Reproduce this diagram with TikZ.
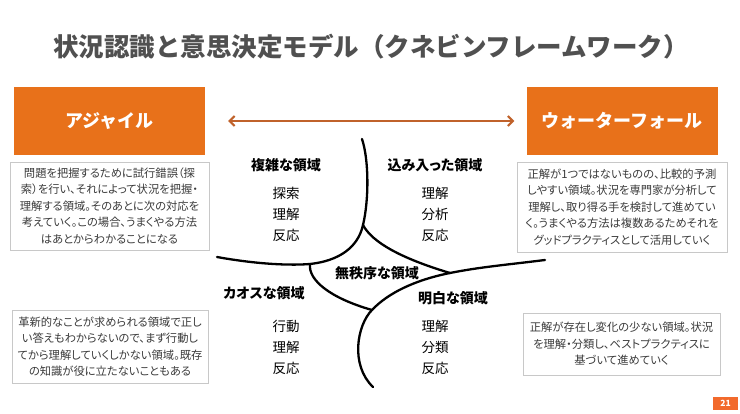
\documentclass[tikz,border=0pt]{standalone}
\usepackage{fontspec}
\setmainfont{Noto Sans CJK JP}[RawFeature=+palt]
\newfontfamily\titlefont{Noto Sans CJK JP}
\usetikzlibrary{arrows.meta}
\definecolor{headfill} {HTML}{E8711A}
\definecolor{flowline} {HTML}{C0622B}
\definecolor{noteframe}{HTML}{C8C8C8}
\definecolor{notetext} {HTML}{3A3A3A}
\definecolor{titlegray}{HTML}{505050}
\definecolor{pagetag}  {HTML}{F26A2C}

\begin{document}
\begin{tikzpicture}[x=1pt, y=-1pt,
    cfhead/.style={fill=headfill, text=white, inner sep=0pt,
                   minimum width=191pt, minimum height=68pt,
                   font=\titlefont\fontsize{18}{18}\selectfont\bfseries},
    cfnote/.style={draw=noteframe, line width=0.8pt, text=notetext, inner sep=0pt,
                   align=center, font=\fontsize{11.3}{16.5}\selectfont},
    cfname/.style={font=\fontsize{14}{14}\selectfont\bfseries},
    cfverb/.style={align=center, font=\fontsize{13.5}{21}\selectfont},
    cfline/.style={line width=2.3pt, line cap=round},
    cfflow/.style={{Straight Barb[length=5pt, width=10pt]}-{Straight Barb[length=5pt, width=10pt]},
                   line width=2pt, flowline, shorten <=23pt, shorten >=12pt}
  ]
    \node[font=\titlefont\fontsize{25.5}{25.5}\selectfont\bfseries, text=titlegray] (title)
      at (371,47) {状況認識と意思決定モデル（クネビンフレームワーク）};

    \node[cfhead] (agile)     at (109.5,121) {アジャイル};
    \node[cfhead] (waterfall) at (622,121)   {ウォーターフォール};
    \draw[cfflow] (agile) -- (waterfall);

    \node[cfnote, minimum width=199pt, minimum height=88pt] (complexnote) at (109.5,206)
      {問題を把握するために試行錯誤（探\\索）を行い、それによって状況を把握・\\理解する領域。そのあとに次の対応を\\考えていく。この場合、うまくやる方法\\はあとからわかることになる};
    \node[cfnote, minimum width=210pt, minimum height=90pt] (complicatednote) at (622,207)
      {正解が1つではないものの、比較的予測\\しやすい領域。状況を専門家が分析して\\理解し、取り得る手を検討して進めてい\\く。うまくやる方法は複数あるためそれを\\グッドプラクティスとして活用していく};
    \node[cfnote, minimum width=196pt, minimum height=73pt] (chaosnote) at (110,346.5)
      {革新的なことが求められる領域で正し\\い答えもわからないので、まず行動し\\てから理解していくしかない領域。既存\\の知識が役に立たないこともある};
    \node[cfnote, minimum width=197pt, minimum height=62pt] (clearnote) at (621.5,344)
      {正解が存在し変化の少ない領域。状況\\を理解・分類し、ベストプラクティスに\\基づいて進めていく};

    % the four domains meet around the disorder area; J1..J4 are the joints
    \coordinate (j1) at (363,225);
    \coordinate (j2) at (310,264);
    \coordinate (j3) at (450,273);
    \coordinate (j4) at (372,310);
    \draw[cfline] (362,139) .. controls (369,160) and (369,200) .. (j1);
    \draw[cfline] (217,257) .. controls (250,263) and (285,266) .. (j2)
                            .. controls (338,261) and (358,248) .. (j1);
    \draw[cfline] (j1) .. controls (372,242) and (400,258) .. (j3);
    \draw[cfline] (j2) .. controls (308,280) and (330,298) .. (j4);
    \draw[cfline] (545,260) .. controls (505,265) and (480,267) .. (j3)
                            .. controls (415,280) and (388,293) .. (j4)
                            .. controls (357,325) and (350,365) .. (373,387);

    \node[cfname] (complex)     at (286,165) {複雑な領域};
    \node[cfname] (complicated) at (435,165) {込み入った領域};
    \node[cfname] (disorder)    at (377,273) {無秩序な領域};
    \node[cfname] (chaos)       at (264,293) {カオスな領域};
    \node[cfname] (clear)       at (453,298) {明白な領域};

    \node[cfverb] (complexverb)     at (286,214) {探索\\理解\\反応};
    \node[cfverb] (complicatedverb) at (435,214) {理解\\分析\\反応};
    \node[cfverb] (chaosverb)       at (286,347) {行動\\理解\\反応};
    \node[cfverb] (clearverb)       at (435,347) {理解\\分類\\反応};

    \node[fill=pagetag, text=white, inner sep=0pt, minimum width=25pt, minimum height=13pt,
          font=\fontsize{8.5}{8.5}\selectfont\bfseries] (page) at (725.5,403.5) {21};
    \useasboundingbox (0,0) rectangle (740,414);
  \end{tikzpicture}
\end{document}
